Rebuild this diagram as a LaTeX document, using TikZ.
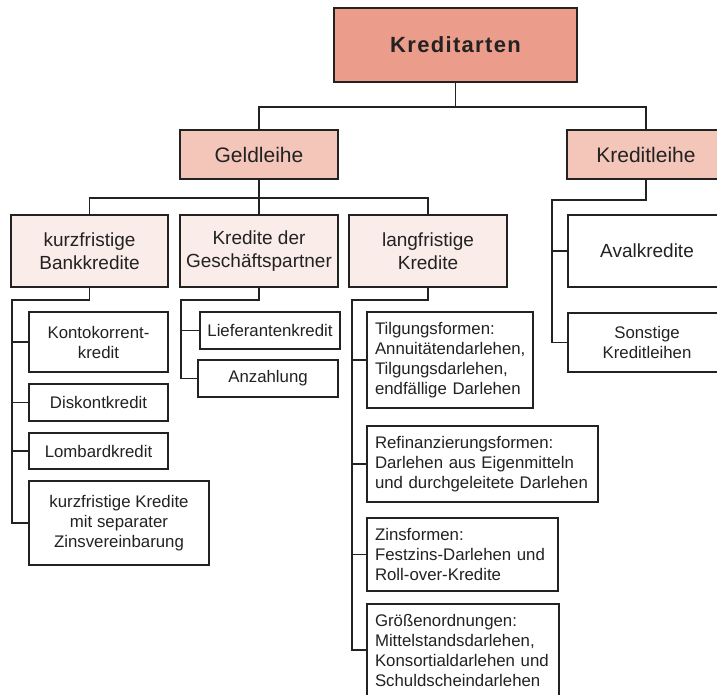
\documentclass[tikz,border=0pt]{standalone}
\usepackage{fontspec}
\setmainfont{Liberation Sans}
\usepackage{tikz}
\usetikzlibrary{positioning, calc}
\definecolor{topfill}{RGB}{236,156,138}
\definecolor{midfill}{RGB}{244,198,185}
\definecolor{lowfill}{RGB}{250,236,232}
\definecolor{ink}{RGB}{34,34,34}

\begin{document}
\begin{tikzpicture}[
  x=1pt, y=-1pt,
  box/.style={rectangle, draw=ink, line width=1.8pt, align=center, inner sep=0pt, text=ink},
  head/.style={box, fill=topfill, minimum width=243pt, minimum height=74pt, font=\fontsize{22}{26}\selectfont\bfseries\addfontfeature{LetterSpace=6}},
  branch/.style={box, fill=midfill, minimum width=158pt, minimum height=49pt, font=\fontsize{21}{25}\selectfont},
  group/.style={box, fill=lowfill, minimum width=158pt, minimum height=72pt, font=\fontsize{19}{23}\selectfont},
  leaf/.style={box, fill=white, font=\fontsize{16.8}{20}\selectfont},
  leftleaf/.style={leaf, align=left, text width=#1, inner xsep=8pt},
  link/.style={draw=ink, line width=1.9pt}
]
\clip (0,0) rectangle (717,695);

\node (kredit_arten) [head] at (455.5,45) {Kreditarten};

\node (geld_leihe) [branch] at (259,154.5) {Geldleihe};
\node (kredit_leihe) [branch] at (646,154.5) {Kreditleihe};

\node (kurz_bank) [group, minimum width=157pt] at (89.5,251) {kurzfristige\\Bankkredite};
\node (partner) [group] at (259,251) {Kredite der\\Geschäftspartner};
\node (lang_kredit) [group] at (428,251) {langfristige\\Kredite};

\node (aval) [leaf, minimum width=158pt, minimum height=72pt, font=\fontsize{19}{23}\selectfont] at (647,251) {Avalkredite};
\node (sonstige) [leaf, minimum width=158pt, minimum height=59pt] at (647,342.5) {Sonstige\\Kreditleihen};

\node (konto) [leaf, minimum width=139pt, minimum height=60pt] at (98.5,342) {Kontokorrent-\\kredit};
\node (diskont) [leaf, minimum width=139pt, minimum height=37pt] at (98.5,402.5) {Diskontkredit};
\node (lombard) [leaf, minimum width=139pt, minimum height=36pt] at (98.5,451) {Lombardkredit};
\node (kurz_sep) [leaf, minimum width=180pt, minimum height=84pt] at (119,523) {kurzfristige Kredite\\mit separater\\Zinsvereinbarung};

\node (liefer) [leaf, minimum width=140pt, minimum height=37pt] at (270,330.5) {Lieferantenkredit};
\node (anzahlung) [leaf, minimum width=140pt, minimum height=37pt] at (268,378.5) {Anzahlung};

\node (tilgung) [leftleaf=150pt, minimum height=96pt] at (450,360) {Tilgungsformen:\\Annuitätendarlehen,\\Tilgungsdarlehen,\\endfällige Darlehen};
\node (refinanz) [leftleaf=215pt, minimum height=76pt] at (482.5,464) {Refinanzierungsformen:\\Darlehen aus Eigenmitteln\\und durchgeleitete Darlehen};
\node (zins) [leftleaf=175pt, minimum height=73pt] at (462.5,554.5) {Zinsformen:\\Festzins-Darlehen und\\Roll-over-Kredite};
\node (groesse) [leftleaf=176pt, minimum height=92pt] at (463,650) {Größenordnungen:\\Mittelstandsdarlehen,\\Konsortialdarlehen und\\Schuldscheindarlehen};

\draw [link] (kredit_arten.south) -- ++(0,24) coordinate (top_bus);
\draw [link] (top_bus) -| (geld_leihe.north);
\draw [link] (top_bus) -| (kredit_leihe.north);

\draw [link] (geld_leihe.south) -- ++(0,18) coordinate (geld_bus);
\draw [link] (geld_bus) -| (kurz_bank.north);
\draw [link] (geld_bus) -| (lang_kredit.north);
\draw [link] (geld_bus) -- (partner.north);

\draw [link] (kredit_leihe.south) -- ++(0,20) -| ($(sonstige.west)+(-15,0)$) -- (sonstige.west);
\draw [link] (aval.west) -- ++(-15,0);

\draw [link] (kurz_bank.south) -- ++(0,12) -| ($(kurz_sep.west)+(-16,0)$) -- (kurz_sep.west);
\draw [link] (konto.west) -- ++(-16,0);
\draw [link] (diskont.west) -- ++(-16,0);
\draw [link] (lombard.west) -- ++(-16,0);

\draw [link] (partner.south) -- ++(0,12) -| ($(anzahlung.west)+(-16,0)$) -- (anzahlung.west);
\draw [link] (liefer.west) -- ++(-18,0);

\draw [link] (lang_kredit.south) -- ++(0,12) -| ($(groesse.west)+(-14,0)$) -- (groesse.west);
\draw [link] (tilgung.west) -- ++(-14,0);
\draw [link] (refinanz.west) -- ++(-14,0);
\draw [link] (zins.west) -- ++(-14,0);

\end{tikzpicture}
\end{document}
